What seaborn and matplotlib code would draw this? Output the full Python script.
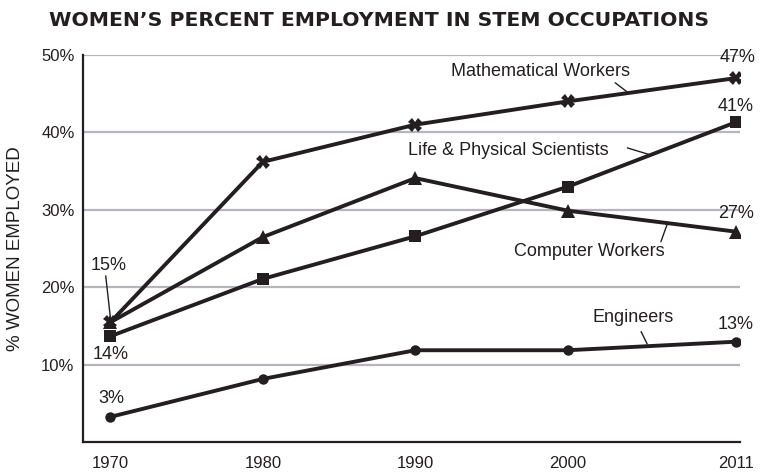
import numpy as np
import pandas as pd
import matplotlib
matplotlib.use("Agg")
import matplotlib.pyplot as plt
import seaborn as sns

years = [1970, 1980, 1990, 2000, 2011]
math_workers = [15.5, 36.2, 41.0, 44.0, 47.0]
life_phys = [13.7, 21.1, 26.6, 33.0, 41.3]
computer_workers = [15.5, 26.5, 34.1, 29.9, 27.2]
engineers = [3.3, 8.2, 11.9, 11.9, 13.0]
y_ticks = [10, 20, 30, 40, 50]

series = {
    "Mathematical Workers": math_workers,
    "Life & Physical Scientists": life_phys,
    "Computer Workers": computer_workers,
    "Engineers": engineers,
}
marker_style = {
    "Mathematical Workers": ("X", 10),
    "Life & Physical Scientists": ("s", 8.5),
    "Computer Workers": ("^", 10),
    "Engineers": ("o", 7.5),
}

df = pd.DataFrame(
    [(y, name, v) for name, vals in series.items() for y, v in zip(years, vals)],
    columns=["year", "group", "pct"],
)

sns.set_style("white")
plt.rcParams["font.family"] = ["Liberation Sans", "DejaVu Sans"]
ink = "#231f20"

fig = plt.figure(figsize=(7.6, 4.73), dpi=100)
ax = fig.add_axes([0.109, 0.0645, 0.865, 0.8195])

for name in series:
    m, ms = marker_style[name]
    sns.lineplot(data=df[df["group"] == name], x="year", y="pct", ax=ax,
                 color=ink, lw=2.8, marker=m, markersize=ms,
                 markeredgewidth=0, zorder=3, legend=False)

ax.set_xlim(1968.2, 2011.3)
ax.set_ylim(0, 50)
ax.set_yticks(y_ticks)
ax.set_yticklabels([f"{t}%" for t in y_ticks])
ax.set_xticks(years)
ax.set_xticklabels([str(y) for y in years])
for t in y_ticks:
    ax.axhline(t, color="#b5b5bb", lw=1.6, zorder=1)
ax.tick_params(axis="both", labelsize=12, colors=ink, length=0, pad=6)
ax.tick_params(axis="x", pad=10)
sns.despine(ax=ax)
for s in ["left", "bottom"]:
    ax.spines[s].set_color(ink)
    ax.spines[s].set_linewidth(1.6)
ax.set_xlabel("")
ax.set_ylabel("% WOMEN EMPLOYED", fontsize=13.5, color=ink, labelpad=12)

# series labels with leader lines
tkw = dict(fontsize=13, color=ink, ha="center", va="center")
lkw = dict(color=ink, lw=1)
ax.text(1998.2, 47.8, "Mathematical Workers", **tkw)
ax.plot([2003.1, 2003.9], [46.4, 45.2], **lkw)
ax.text(1996.1, 37.7, "Life & Physical Scientists", **tkw)
ax.plot([2003.9, 2005.4], [38.0, 37.1], **lkw)
ax.text(2001.4, 24.6, "Computer Workers", **tkw)
ax.plot([2006.1, 2006.5], [25.9, 28.1], **lkw)
ax.text(2004.25, 16.1, "Engineers", **tkw)
ax.plot([2004.8, 2005.2], [14.3, 12.7], **lkw)

# value labels
vkw = dict(fontsize=13, color=ink, ha="center", va="center")
ax.text(2011.1, 49.7, "47%", clip_on=False, **vkw)
ax.text(2011.0, 43.3, "41%", clip_on=False, **vkw)
ax.text(2011.0, 29.6, "27%", clip_on=False, **vkw)
ax.text(2011.0, 15.2, "13%", clip_on=False, **vkw)
ax.text(1969.9, 22.8, "15%", **vkw)
ax.plot([1969.7, 1970.0], [21.5, 16.2], **lkw)
ax.text(1970.0, 11.3, "14%", **vkw)
ax.text(1970.1, 5.7, "3%", **vkw)

fig.text(0.064, 0.957, "WOMEN\u2019S PERCENT EMPLOYMENT IN STEM OCCUPATIONS",
         fontsize=14.7, fontweight="bold", color=ink, ha="left", va="center",
         family="DejaVu Sans")

fig.savefig("out.png", dpi=100)
